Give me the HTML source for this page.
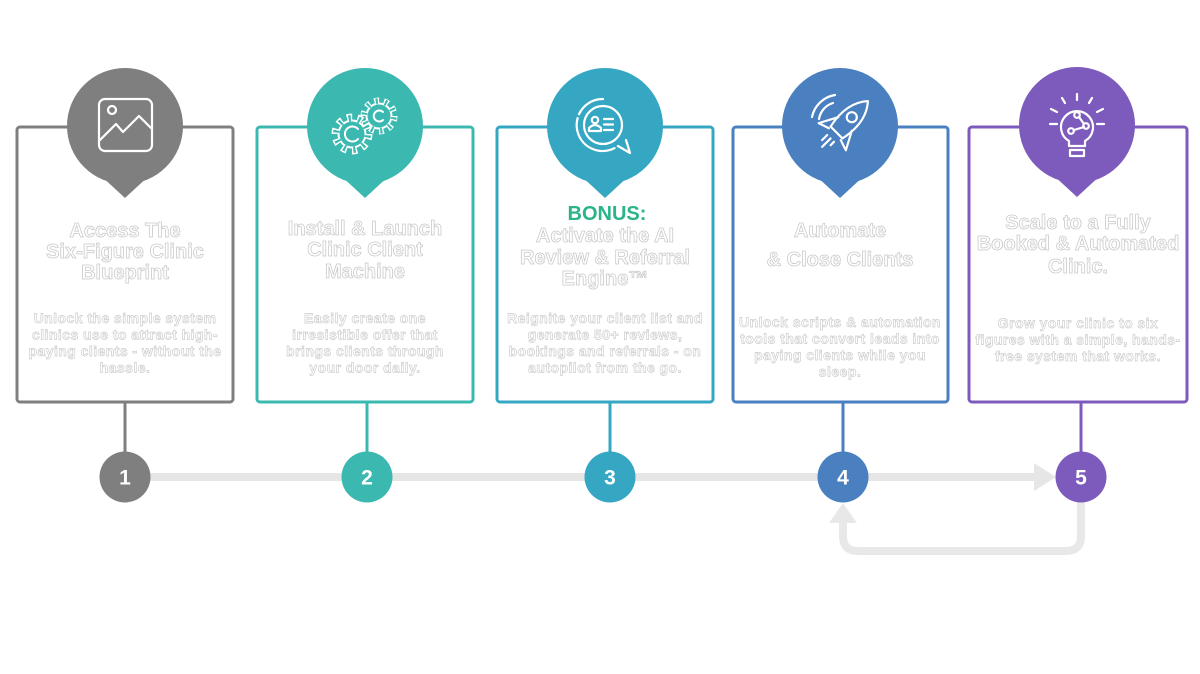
<!DOCTYPE html>
<html><head><meta charset="utf-8"><style>
html,body{margin:0;padding:0;background:#fff;}
svg{display:block;}
.t{font-family:"Liberation Sans",Arial,sans-serif;font-weight:bold;font-size:20px;fill:#fff;stroke:#c8c8c8;stroke-width:0.75px;text-anchor:middle;}
.b{font-family:"Liberation Sans",Arial,sans-serif;font-weight:bold;font-size:14px;letter-spacing:0.45px;fill:#fff;stroke:#cbcbcb;stroke-width:0.65px;text-anchor:middle;}
.n{font-family:"Liberation Sans",Arial,sans-serif;font-weight:bold;font-size:21px;fill:#fff;text-anchor:middle;}
.ic{fill:none;stroke:#fff;stroke-width:2.2;stroke-linecap:round;stroke-linejoin:round;}
</style></head><body>
<svg width="1200" height="674" viewBox="0 0 1200 674" xmlns="http://www.w3.org/2000/svg">
<!-- timeline -->
<line x1="125" y1="477" x2="1038" y2="477" stroke="#e6e6e6" stroke-width="8"/>
<polygon points="1034,463 1056,477 1034,491" fill="#e6e6e6"/>
<path d="M1081 500 L1081 536 Q1081 551 1066 551 L858 551 Q843 551 843 536 L843 520" fill="none" stroke="#e8e8e8" stroke-width="8"/>
<polygon points="829,523 857,523 843,503" fill="#e8e8e8"/>

<!-- boxes -->
<rect x="17" y="127" width="216" height="275" rx="3" fill="#fff" stroke="#7f7f7f" stroke-width="3"/>
<rect x="257" y="127" width="216" height="275" rx="3" fill="#fff" stroke="#3bb8b0" stroke-width="3"/>
<rect x="497" y="127" width="216" height="275" rx="3" fill="#fff" stroke="#35a7c3" stroke-width="3"/>
<rect x="733" y="127" width="215" height="275" rx="3" fill="#fff" stroke="#4a80c0" stroke-width="3"/>
<rect x="969" y="127" width="218" height="275" rx="3" fill="#fff" stroke="#7d5bbd" stroke-width="3"/>

<!-- vertical connectors -->
<line x1="125" y1="402" x2="125" y2="455" stroke="#7f7f7f" stroke-width="3"/>
<line x1="367" y1="402" x2="367" y2="455" stroke="#3bb8b0" stroke-width="3"/>
<line x1="610" y1="402" x2="610" y2="455" stroke="#35a7c3" stroke-width="3"/>
<line x1="843" y1="402" x2="843" y2="455" stroke="#4a80c0" stroke-width="3"/>
<line x1="1081" y1="402" x2="1081" y2="455" stroke="#7d5bbd" stroke-width="3"/>

<!-- nodes -->
<circle cx="125" cy="477" r="25.5" fill="#7f7f7f"/><text class="n" x="125" y="484.5">1</text>
<circle cx="367" cy="477" r="25.5" fill="#3bb8b0"/><text class="n" x="367" y="484.5">2</text>
<circle cx="610" cy="477" r="25.5" fill="#35a7c3"/><text class="n" x="610" y="484.5">3</text>
<circle cx="843" cy="477" r="25.5" fill="#4a80c0"/><text class="n" x="843" y="484.5">4</text>
<circle cx="1081" cy="477" r="25.5" fill="#7d5bbd"/><text class="n" x="1081" y="484.5">5</text>

<!-- pins -->
<g fill="#7f7f7f"><circle cx="125" cy="126" r="58"/><polygon points="99,174 151,174 125,198"/></g>
<g fill="#3bb8b0"><circle cx="365" cy="126" r="58"/><polygon points="339,174 391,174 365,198"/></g>
<g fill="#35a7c3"><circle cx="605" cy="126" r="58"/><polygon points="579,174 631,174 605,198"/></g>
<g fill="#4a80c0"><circle cx="840" cy="126" r="58"/><polygon points="814,174 866,174 840,198"/></g>
<g fill="#7d5bbd"><circle cx="1077" cy="125" r="58"/><polygon points="1051,173 1103,173 1077,197"/></g>

<!-- icon 1: image -->
<g class="ic" stroke-width="2.5">
<rect x="99" y="99" width="53" height="52" rx="6"/>
<circle cx="112" cy="110" r="4"/>
<path d="M100 140 L116 124 L123 132 L139 116 L151 128"/>
</g>
<!-- icon 2: gears (outlined) -->
<g>
<!-- gear 2 (right) -->
<circle cx="379" cy="116" r="16" fill="none" stroke="#fff" stroke-width="5" stroke-dasharray="5.03 5.02"/>
<circle cx="379" cy="116" r="13.5" fill="#fff"/>
<circle cx="379" cy="116" r="11.5" fill="#3bb8b0"/>
<circle cx="379" cy="116" r="14.75" fill="none" stroke="#3bb8b0" stroke-width="6" stroke-dasharray="2 7.27" stroke-dashoffset="-1.32"/>
<path d="M383 112 A5.5 5.5 0 1 0 383 120" fill="none" stroke="#fff" stroke-width="2" stroke-linecap="round"/>
<!-- gear 1 (left) -->
<circle cx="352" cy="134" r="17.5" fill="none" stroke="#fff" stroke-width="6" stroke-dasharray="5.5 5.5"/>
<circle cx="352" cy="134" r="14.5" fill="#fff"/>
<circle cx="352" cy="134" r="12.5" fill="#3bb8b0"/>
<circle cx="352" cy="134" r="15.75" fill="none" stroke="#3bb8b0" stroke-width="6.5" stroke-dasharray="2.2 7.7" stroke-dashoffset="-1.375"/>
<path d="M358 129 A7.5 7.5 0 1 0 358 139" fill="none" stroke="#fff" stroke-width="2" stroke-linecap="round"/>
</g>
<!-- icon 3: chat bubble -->
<g class="ic" stroke-width="2">
<path d="M603 99 A26 26 0 1 0 618 146 L630 153 L626 140" stroke-dasharray="30 4 60 4 200"/>
<circle cx="603" cy="125" r="19"/>
<circle cx="595" cy="120" r="3.2"/>
<path d="M589 131 L589 128 Q595 122 601 128 L601 131 Z"/>
<path d="M604 119 L613 119 M604 124.5 L613 124.5 M604 130 L613 130"/>
</g>
<!-- icon 4: rocket -->
<g class="ic">
<g transform="translate(845 124) rotate(45) scale(1.2)">
<path d="M0 -27 C9 -17 10 -4 7 10 L-7 10 C-10 -4 -9 -17 0 -27 Z" stroke-width="1.8"/>
<path d="M-8 0 L-16 15 L-7 12 M8 0 L16 15 L7 12" stroke-width="1.8"/>
<circle cx="0" cy="-8" r="4.2" stroke-width="1.8"/>
<path d="M-4 17 L-4 23 M0 17 L0 27 M4 17 L4 21" stroke-width="1.8"/>
</g>
<path d="M812 117 A28 28 0 0 1 835 95"/>
<path d="M819 119 A20 20 0 0 1 833 103"/>
</g>
<!-- icon 5: bulb -->
<g class="ic">
<path d="M1069 141 A16 16 0 1 1 1085 141 L1085 146 L1069 146 Z"/>
<rect x="1070" y="150" width="14" height="6"/>
<path d="M1077 94 L1077 100 M1062 98 L1065 103 M1092 98 L1089 103 M1051 109 L1057 112 M1103 109 L1097 112 M1050 124 L1057 124 M1097 124 L1104 124"/>
<circle cx="1077" cy="115" r="2.8"/>
<circle cx="1086" cy="126" r="2.8"/>
<circle cx="1071" cy="131" r="2.8"/>
<path d="M1079 117 L1084 124 M1084 127 L1074 130"/>
</g>

<!-- box 1 text -->
<text class="t" x="125" y="237">Access The</text>
<text class="t" x="125" y="258">Six-Figure Clinic</text>
<text class="t" x="125" y="279">Blueprint</text>
<text class="b" x="125" y="323">Unlock the simple system</text>
<text class="b" x="125" y="339.5">clinics use to attract high-</text>
<text class="b" x="125" y="356">paying clients - without the</text>
<text class="b" x="125" y="372.5">hassle.</text>

<!-- box 2 text -->
<text class="t" x="365" y="235">Install &amp; Launch</text>
<text class="t" x="365" y="256">Clinic Client</text>
<text class="t" x="365" y="278">Machine</text>
<text class="b" x="365" y="323">Easily create one</text>
<text class="b" x="365" y="339.5">irresistible offer that</text>
<text class="b" x="365" y="356">brings clients through</text>
<text class="b" x="365" y="372.5">your door daily.</text>

<!-- box 3 text -->
<text x="607" y="220" font-family="Liberation Sans, Arial, sans-serif" font-weight="bold" font-size="20" fill="#2bb38a" text-anchor="middle">BONUS:</text>
<text class="t" x="605" y="242">Activate the AI</text>
<text class="t" x="605" y="264">Review &amp; Referral</text>
<text class="t" x="605" y="285">Engine™</text>
<text class="b" x="605" y="323">Reignite your client list and</text>
<text class="b" x="605" y="339.5">generate 50+ reviews,</text>
<text class="b" x="605" y="356">bookings and referrals - on</text>
<text class="b" x="605" y="372.5">autopilot from the go.</text>

<!-- box 4 text -->
<text class="t" x="840" y="237">Automate</text>
<text class="t" x="840" y="266">&amp; Close Clients</text>
<text class="b" x="840" y="327">Unlock scripts &amp; automation</text>
<text class="b" x="840" y="343.5">tools that convert leads into</text>
<text class="b" x="840" y="360">paying clients while you</text>
<text class="b" x="840" y="376.5">sleep.</text>

<!-- box 5 text -->
<text class="t" x="1078" y="229">Scale to a Fully</text>
<text class="t" x="1078" y="250">Booked &amp; Automated</text>
<text class="t" x="1078" y="273">Clinic.</text>
<text class="b" x="1078" y="328">Grow your clinic to six</text>
<text class="b" x="1078" y="344.5">figures with a simple, hands-</text>
<text class="b" x="1078" y="361">free system that works.</text>
</svg>
</body></html>
